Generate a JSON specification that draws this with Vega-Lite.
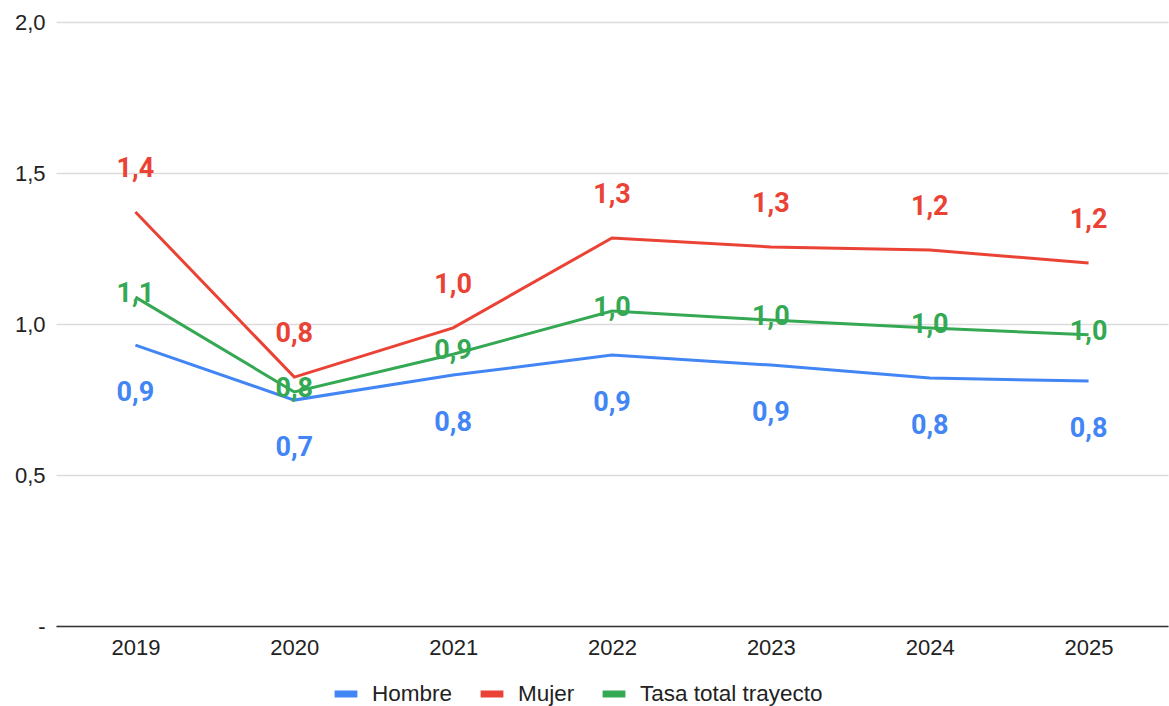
{
  "$schema": "https://vega.github.io/schema/vega-lite/v6.json",
  "width": 1112,
  "height": 604,
  "autosize": {"type": "none"},
  "padding": {"left": 56, "top": 22, "right": 1, "bottom": 80},
  "background": "white",
  "config": {
    "view": {"stroke": null},
    "locale": {"number": {"decimal": ",", "thousands": ".", "grouping": [3], "currency": ["", " €"]}},
    "font": "Liberation Sans"
  },
  "data": {
    "values": [
      {"year": "2019", "serie": "Hombre", "v": 0.93},
      {"year": "2020", "serie": "Hombre", "v": 0.748},
      {"year": "2021", "serie": "Hombre", "v": 0.831},
      {"year": "2022", "serie": "Hombre", "v": 0.897},
      {"year": "2023", "serie": "Hombre", "v": 0.864},
      {"year": "2024", "serie": "Hombre", "v": 0.821},
      {"year": "2025", "serie": "Hombre", "v": 0.811},
      {"year": "2019", "serie": "Mujer", "v": 1.371},
      {"year": "2020", "serie": "Mujer", "v": 0.824},
      {"year": "2021", "serie": "Mujer", "v": 0.987},
      {"year": "2022", "serie": "Mujer", "v": 1.285},
      {"year": "2023", "serie": "Mujer", "v": 1.255},
      {"year": "2024", "serie": "Mujer", "v": 1.245},
      {"year": "2025", "serie": "Mujer", "v": 1.202},
      {"year": "2019", "serie": "Tasa total trayecto", "v": 1.089},
      {"year": "2020", "serie": "Tasa total trayecto", "v": 0.775},
      {"year": "2021", "serie": "Tasa total trayecto", "v": 0.9},
      {"year": "2022", "serie": "Tasa total trayecto", "v": 1.043},
      {"year": "2023", "serie": "Tasa total trayecto", "v": 1.013},
      {"year": "2024", "serie": "Tasa total trayecto", "v": 0.987},
      {"year": "2025", "serie": "Tasa total trayecto", "v": 0.964}
    ]
  },
  "encoding": {
    "x": {
      "field": "year", "type": "ordinal",
      "scale": {"type": "point", "padding": 0.5},
      "axis": {"title": null, "labelAngle": 0, "ticks": false, "domain": true, "domainColor": "#333333", "domainWidth": 1.5, "labelFontSize": 22, "labelColor": "#222222", "labelPadding": 11, "labelFont": "Liberation Sans"}
    },
    "y": {
      "field": "v", "type": "quantitative",
      "scale": {"domain": [0, 2]},
      "axis": {"title": null, "values": [0, 0.5, 1, 1.5, 2], "ticks": false, "domain": false, "gridColor": "#dcdcdc", "gridWidth": 1.5, "labelFontSize": 22, "labelColor": "#222222", "labelPadding": 11, "labelFont": "Liberation Sans",
        "labelExpr": "datum.value == 0 ? '-' : replace(format(datum.value, '.1f'), '.', ',')"}
    },
    "color": {
      "field": "serie", "type": "nominal",
      "scale": {"domain": ["Hombre", "Mujer", "Tasa total trayecto"], "range": ["#4285F4", "#EA4335", "#34A853"]},
      "legend": {"title": null, "orient": "none", "legendX": 275, "legendY": 657, "direction": "horizontal", "symbolType": "stroke", "symbolStrokeWidth": 7, "symbolSize": 520, "labelFontSize": 22.5, "labelColor": "#222222", "labelFont": "Liberation Sans", "labelLimit": 0, "columnPadding": 13, "symbolOffset": 0, "labelOffset": 11}
    }
  },
  "layer": [
    {"mark": {"type": "line", "strokeWidth": 3}},
    {
      "transform": [{"filter": "datum.serie == 'Hombre'"}],
      "mark": {"type": "text", "dy": 48, "fontSize": 27, "fontWeight": "bold", "font": "Roboto"},
      "encoding": {"text": {"field": "v", "type": "quantitative", "format": ".1f"}}
    },
    {
      "transform": [{"filter": "datum.serie == 'Mujer'"}],
      "mark": {"type": "text", "dy": -43, "fontSize": 27, "fontWeight": "bold", "font": "Roboto"},
      "encoding": {"text": {"field": "v", "type": "quantitative", "format": ".1f"}}
    },
    {
      "transform": [{"filter": "datum.serie == 'Tasa total trayecto'"}],
      "mark": {"type": "text", "dy": -3, "fontSize": 27, "fontWeight": "bold", "font": "Roboto"},
      "encoding": {"text": {"field": "v", "type": "quantitative", "format": ".1f"}}
    }
  ]
}
